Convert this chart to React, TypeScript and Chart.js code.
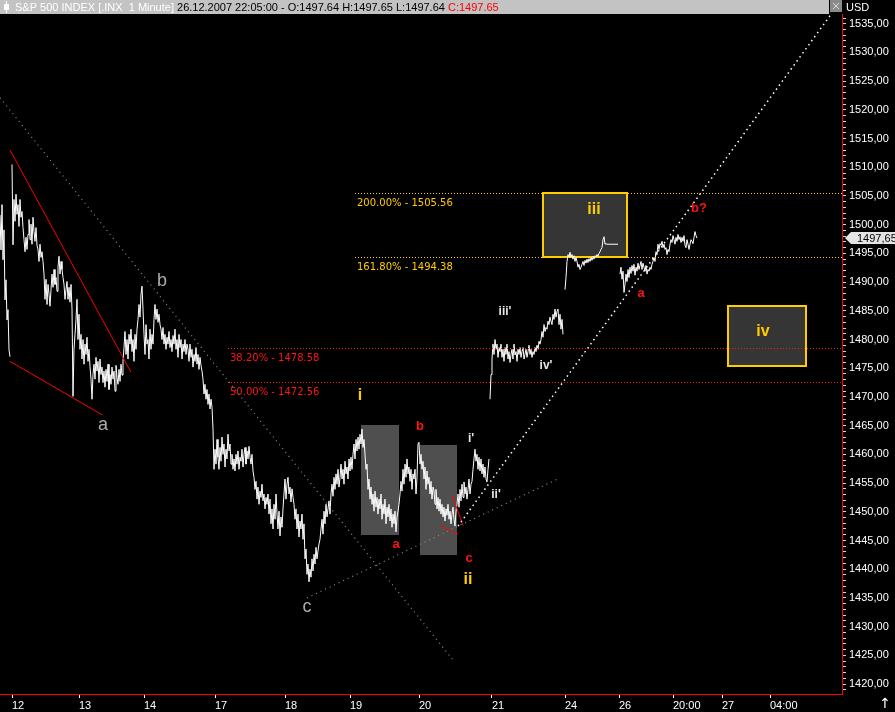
import React, { useEffect, useRef } from 'react';
import { Chart, registerables } from 'chart.js';

Chart.register(...registerables);

// ---- time axis (bar index) ----
const tickPos = [12, 79, 144, 215, 285, 350, 419, 492, 565, 619, 673, 722, 770];
const tickLabels = ['12', '13', '14', '17', '18', '19', '20', '21', '24', '26', '20:00', '27', '04:00'];

// ---- 1-minute closes, grouped by uninterrupted session runs ----
const priorTailStart = 0;
const priorTail = [1501.7, 1495.6, 1503.5, 1493.9, 1499.1, 1486.9, 1490.4, 1483.4, 1485.2, 1478.2, 1477.0];

const runAStart = 12;
const runA = [
  1510.5, 1496.5, 1504.4, 1500.6, 1505.3, 1501.8, 1503.5, 1499.7,
  1504.4, 1501.3, 1502.3, 1499.5, 1497.4, 1495.3, 1497.8, 1495.7, 1498.3, 1500.9,
  1497.4, 1500.1, 1496.6, 1501.3, 1498.8, 1497.1, 1499.5, 1496.4, 1495.7, 1493.6,
  1496.6, 1494.3, 1495.3, 1493.6, 1491.4, 1487.0, 1490.5, 1486.1, 1489.6, 1487.9,
  1485.8, 1488.7, 1491.4, 1489.1, 1492.2, 1489.6, 1490.8, 1488.4, 1492.6, 1494.5,
  1491.4, 1493.6, 1492.2, 1490.8, 1489.6, 1487.0, 1488.7, 1490.1, 1487.0, 1489.1,
  1486.5, 1489.6, 1485.3, 1470.1, 1478.3, 1480.9, 1483.5, 1487.0, 1480.0, 1484.4,
  1478.3, 1480.9, 1476.6, 1480.0, 1475.7, 1479.2, 1477.4, 1480.4, 1476.2, 1478.3,
  1475.3, 1473.1, 1469.6, 1473.9, 1475.7, 1473.1, 1476.9, 1474.5, 1476.2, 1472.5,
  1476.6, 1473.9, 1475.2, 1472.5, 1474.5, 1471.7, 1474.8, 1472.7, 1475.7, 1471.3,
  1473.9, 1472.2, 1475.2, 1473.1, 1474.5, 1471.0, 1475.5, 1473.4, 1472.2, 1474.8,
  1472.7, 1475.7, 1473.8, 1476.2, 1478.6, 1481.4, 1477.4, 1480.0, 1476.6, 1480.9,
  1479.2, 1481.8, 1477.9, 1480.0, 1476.2, 1480.9, 1478.3, 1481.8, 1483.5, 1486.1,
  1483.9, 1487.9, 1489.3, 1485.3, 1480.9, 1477.4, 1482.6, 1479.2, 1480.0, 1476.6,
  1481.8, 1478.3, 1480.9, 1479.2, 1483.5, 1486.1, 1483.5, 1485.3, 1483.0, 1484.4,
  1482.6, 1481.8, 1480.0, 1482.1, 1479.2, 1480.9, 1478.3, 1480.4, 1479.2, 1481.4,
  1478.6, 1480.0, 1477.9, 1480.7, 1479.2, 1481.8, 1478.3, 1480.0, 1476.9, 1480.9,
  1478.6, 1480.0, 1476.6, 1479.2, 1477.9, 1480.0, 1477.4, 1479.2, 1478.3, 1476.2,
  1479.2, 1476.9, 1478.3, 1475.2, 1477.4, 1476.2, 1478.6, 1475.7, 1477.4, 1474.8,
  1476.9, 1475.5, 1474.5, 1473.1, 1470.5, 1472.2, 1469.6, 1471.3, 1468.7, 1470.5,
  1467.9, 1469.6, 1468.2, 1464.4, 1457.4, 1460.9, 1458.3, 1462.6, 1459.5, 1457.4,
  1461.2, 1458.8, 1463.0, 1460.0, 1461.8, 1457.8, 1460.9, 1459.2, 1463.5, 1460.6,
  1461.8, 1458.3, 1460.0, 1457.4, 1459.2, 1457.1, 1460.0, 1458.3, 1460.6, 1457.4,
  1459.5, 1458.8, 1460.9, 1457.8, 1460.0, 1461.2, 1458.3, 1460.6, 1459.2, 1461.4,
  1459.5, 1458.3, 1460.0, 1457.1, 1456.0, 1453.9, 1455.3, 1452.2, 1454.3, 1451.3,
  1453.6, 1452.5, 1454.8, 1451.9, 1453.1, 1450.5, 1452.5, 1451.3, 1453.1, 1449.6,
  1452.2, 1447.9, 1450.5, 1447.0, 1451.3, 1448.7, 1453.1, 1449.6, 1447.0, 1450.1,
  1445.8, 1449.1, 1447.3, 1450.5, 1453.1, 1455.7, 1452.2, 1454.8, 1456.0, 1453.1,
  1454.3, 1451.7, 1454.0, 1452.5, 1451.3, 1448.7, 1450.5, 1447.0, 1449.6, 1445.6,
  1448.4, 1447.0, 1449.6, 1445.2, 1447.9, 1441.8, 1443.5, 1439.1, 1440.9, 1437.8,
  1440.0, 1438.6, 1441.8, 1439.7, 1442.6, 1440.9, 1443.8, 1441.8, 1443.2, 1444.4,
  1445.2, 1447.0, 1448.7, 1446.1, 1450.1, 1447.9, 1451.3, 1449.1, 1450.5, 1451.9,
  1449.6, 1453.1, 1454.8, 1452.7, 1456.0, 1453.9, 1456.6, 1454.8, 1457.4, 1454.3,
  1456.0, 1458.3, 1455.7, 1457.4, 1454.8, 1458.8, 1456.6, 1457.8, 1455.7, 1459.2,
  1457.1, 1459.5, 1457.4, 1460.0, 1461.8, 1459.2, 1462.6, 1460.6, 1463.0, 1460.9,
  1463.5, 1461.8, 1464.4, 1461.2, 1462.6, 1460.0, 1457.4, 1458.3, 1453.9, 1455.7,
  1452.2, 1454.3, 1451.3, 1453.1, 1450.1, 1453.6, 1450.8, 1452.5, 1449.6, 1452.2,
  1450.5, 1453.1, 1448.7, 1451.3, 1449.6, 1452.2, 1447.9, 1450.8, 1449.1, 1451.3,
  1448.4, 1450.5, 1447.3, 1449.6, 1447.9, 1450.1, 1446.5, 1449.1, 1450.1, 1451.3,
  1453.1, 1455.3, 1453.6, 1457.4, 1454.8, 1458.3, 1456.0, 1459.2, 1456.6, 1457.8,
  1455.3, 1457.4, 1453.9, 1456.6, 1455.7, 1457.4, 1453.1, 1456.0, 1461.8, 1462.1,
  1458.3, 1460.0, 1457.4, 1458.8, 1455.7, 1457.8, 1453.9, 1457.1, 1454.8, 1456.0,
  1453.1, 1455.3, 1452.2, 1454.3, 1453.6, 1451.3, 1453.9, 1450.5, 1452.5, 1450.1,
  1452.2, 1449.6, 1451.3, 1449.1, 1450.8, 1448.4, 1450.5, 1449.4, 1451.3, 1448.7,
  1450.1, 1447.9, 1449.6, 1450.8, 1448.7, 1447.5, 1450.1, 1451.3, 1453.1, 1450.8,
  1453.9, 1451.9, 1454.8, 1452.5, 1455.2, 1453.1, 1454.3, 1452.2, 1453.9, 1455.7,
  1453.1, 1454.8, 1455.3, 1457.4, 1459.2, 1460.9, 1458.8, 1460.0, 1457.4, 1459.5,
  1457.1, 1459.2, 1456.6, 1458.3, 1456.0, 1457.8, 1455.7, 1455.2, 1457.4, 1459.2,
];

const runBStart = 490;
const runB = [
  1469.6, 1473.9, 1476.6, 1479.2, 1477.4, 1480.0, 1478.3, 1479.2, 1476.9, 1478.6,
  1477.9, 1479.2, 1476.9, 1478.3, 1476.2, 1478.6, 1477.4, 1479.2, 1476.6, 1477.9,
  1476.0, 1477.4, 1478.3, 1476.6, 1479.2, 1477.3, 1477.9, 1476.2, 1478.3, 1477.4,
  1478.6, 1476.9, 1477.9, 1478.6, 1476.6, 1477.4, 1478.3, 1476.9, 1477.9, 1479.0,
  1477.4, 1478.3, 1476.9, 1477.9, 1477.4, 1478.6, 1477.9, 1479.0, 1478.3, 1479.7,
  1479.2, 1480.0, 1481.4, 1480.4, 1482.6, 1481.4, 1482.1, 1481.8, 1483.2, 1482.6,
  1483.9, 1483.2, 1482.6, 1484.4, 1483.5, 1485.3, 1483.9, 1484.9, 1485.3, 1482.6,
  1484.4, 1481.8, 1483.5, 1480.9,
];

const runCStart = 565;
const runC = [
  1488.7, 1490.8, 1493.6, 1494.8, 1494.3,
  1495.2, 1494.3, 1494.8, 1494.0, 1494.6, 1493.6, 1494.3, 1493.6, 1492.6, 1493.1,
  1492.2, 1492.6, 1493.1, 1493.6, 1492.9, 1493.8, 1493.3, 1494.0, 1493.4, 1494.1,
  1493.6, 1494.3, 1493.8, 1494.5, 1494.0, 1494.6, 1494.3, 1494.8, 1494.5, 1495.0,
  1495.3, 1495.7, 1496.0, 1497.4, 1497.9, 1496.6, 1496.7, 1496.6, 1496.6, 1496.6,
  1496.6, 1496.6, 1496.6, 1496.6, 1496.6, 1496.6, 1496.6, 1496.6, 1496.6,
];

const runDStart = 620;
const runD = [
  1491.4, 1492.6, 1490.5, 1491.9, 1488.2, 1489.6, 1491.4, 1490.1, 1492.2, 1490.8,
  1492.6, 1491.5, 1492.9, 1491.9, 1493.1, 1491.2, 1492.6, 1491.9, 1493.3, 1492.2,
  1492.9, 1493.6, 1492.2, 1493.3, 1492.6, 1491.9, 1492.9, 1491.4, 1492.2, 1491.9,
  1492.6, 1492.2, 1493.1, 1493.6, 1494.3, 1493.6, 1495.3, 1494.8, 1496.6, 1495.7,
  1496.7, 1496.4, 1497.1, 1496.0, 1496.6, 1495.7, 1496.0, 1494.8, 1495.7, 1495.3,
  1496.6, 1497.4, 1496.9, 1498.1, 1497.4, 1496.6, 1497.8, 1497.1, 1498.3, 1497.4,
  1497.9, 1496.9, 1497.8, 1497.1, 1498.1, 1496.4, 1496.0, 1497.4, 1496.6, 1495.7,
  1496.6, 1497.4, 1497.1, 1496.7, 1497.8, 1498.8, 1498.1, 1497.65,
];

// last bar quote
const lastOpen = 1497.64;
const lastHigh = 1497.65;
const lastLow = 1497.64;
const lastClose = 1497.65;

// Fibonacci projection / retracement levels
const fibPercents = ['200.00%', '161.80%', '38.20%', '50.00%'];
const fibValues = [1505.56, 1494.38, 1478.58, 1472.56];
const fibStarts = [355, 355, 228, 228];
const fibKinds = ['ext', 'ext', 'ret', 'ret'];

// trend lines: [bar1, price1, bar2, price2]
const channelLines = [
  [10, 1513.0, 131, 1474.3],
  [10, 1476.2, 102, 1466.9],
  [452, 1452.9, 463, 1447.6],
  [441, 1447.5, 458, 1446.1],
];
const grayDottedLines = [
  [0, 1522.1, 453, 1424.2],
  [307, 1435.0, 560, 1455.9],
];
const whiteDottedLines = [[458, 1447.5, 830, 1536.4]];

// zones: [bar1, upper, bar2, lower]
const grayZones = [
  [361, 1465.1, 399, 1446.0],
  [420, 1461.6, 457, 1442.5],
];
const targetZones = [
  [543, 1505.56, 627, 1494.38],
  [728, 1485.9, 806, 1475.4],
];

// wave labels: [text, bar, price]
const primaryLabels: [string, number, number][] = [['a', 103, 1465.1], ['b', 162, 1490.2], ['c', 307, 1433.4]];
const minorLabels: [string, number, number][] = [['i', 360, 1470.2], ['ii', 468, 1438.1], ['iii', 594, 1502.6], ['iv', 763, 1481.3]];
const subLabels: [string, number, number][] = [['a', 396, 1444.4], ['b', 420, 1464.8], ['c', 469, 1441.8], ['a', 641, 1488.1], ['b?', 699, 1502.8]];
const minuteLabels: [string, number, number][] = [["i'", 471, 1462.7], ["ii'", 496, 1452.9], ["iii'", 505, 1484.8], ["iv'", 546, 1475.4]];

const YELLOW = '#ffcc00';
const RED = '#ff1414';

function buildSeries() {
  const runs: [number, number[]][] = [
    [priorTailStart, priorTail],
    [runAStart, runA],
    [runBStart, runB],
    [runCStart, runC],
    [runDStart, runD],
  ];
  const pts: { x: number; y: number | null }[] = [];
  runs.forEach(([start, vals], r) => {
    if (r > 0) pts.push({ x: start - 0.5, y: null });
    vals.forEach((v, i) => pts.push({ x: start + i, y: v }));
  });
  return pts;
}

const markupPlugin = {
  id: 'waveMarkup',
  beforeDatasetsDraw(chart: any) {
    const { ctx, chartArea: a, scales } = chart;
    const x = scales.x, y = scales.y;
    ctx.save();
    ctx.beginPath();
    ctx.rect(a.left, a.top, a.right - a.left, a.bottom - a.top);
    ctx.clip();
    grayZones.forEach(([b1, hi, b2, lo]) => {
      const x1 = Math.round(x.getPixelForValue(b1));
      const x2 = Math.round(x.getPixelForValue(b2));
      const y1 = Math.round(y.getPixelForValue(hi));
      const y2 = Math.round(y.getPixelForValue(lo));
      ctx.fillStyle = '#4f4f4f';
      ctx.fillRect(x1, y1, x2 - x1, y2 - y1);
    });
    targetZones.forEach(([b1, hi, b2, lo]) => {
      const x1 = Math.round(x.getPixelForValue(b1));
      const x2 = Math.round(x.getPixelForValue(b2));
      const y1 = Math.round(y.getPixelForValue(hi));
      const y2 = Math.round(y.getPixelForValue(lo));
      ctx.fillStyle = '#353535';
      ctx.fillRect(x1, y1, x2 - x1, y2 - y1);
      ctx.strokeStyle = YELLOW;
      ctx.lineWidth = 2;
      ctx.strokeRect(x1, y1, x2 - x1, y2 - y1);
    });
    ctx.restore();
  },
  afterDatasetsDraw(chart: any) {
    const { ctx, chartArea: a, scales } = chart;
    const x = scales.x, y = scales.y;
    ctx.save();
    ctx.beginPath();
    ctx.rect(a.left, a.top, a.right - a.left, a.bottom - a.top);
    ctx.clip();

    // fib levels
    fibValues.forEach((v, i) => {
      const col = fibKinds[i] === 'ext' ? YELLOW : RED;
      const py = Math.round(y.getPixelForValue(v)) + 0.5;
      ctx.strokeStyle = col;
      ctx.lineWidth = 1;
      ctx.setLineDash([1, 2]);
      ctx.beginPath();
      ctx.moveTo(x.getPixelForValue(fibStarts[i]), py);
      ctx.lineTo(a.right, py);
      ctx.stroke();
      ctx.setLineDash([]);
      ctx.fillStyle = col;
      ctx.font = '10px "DejaVu Sans"';
      ctx.textAlign = 'left';
      ctx.textBaseline = 'alphabetic';
      ctx.fillText(`${fibPercents[i]} - ${v.toFixed(2)}`, x.getPixelForValue(fibStarts[i]) + 2, py + 12.5);
    });

    const seg = (l: number[], color: string, dash: number[], w: number) => {
      ctx.strokeStyle = color;
      ctx.lineWidth = w;
      ctx.setLineDash(dash);
      ctx.beginPath();
      ctx.moveTo(x.getPixelForValue(l[0]), y.getPixelForValue(l[1]));
      ctx.lineTo(x.getPixelForValue(l[2]), y.getPixelForValue(l[3]));
      ctx.stroke();
      ctx.setLineDash([]);
    };
    channelLines.forEach((l) => seg(l, '#ff0000', [], 1));
    grayDottedLines.forEach((l) => seg(l, '#8c8c8c', [1, 4], 1.2));
    whiteDottedLines.forEach((l) => seg(l, '#ffffff', [1.5, 3.5], 1.5));

    const put = (list: [string, number, number][], font: string, color: string) => {
      ctx.font = font;
      ctx.fillStyle = color;
      ctx.textAlign = 'center';
      ctx.textBaseline = 'middle';
      list.forEach(([t, b, p]) => ctx.fillText(t, x.getPixelForValue(b), y.getPixelForValue(p)));
    };
    put(primaryLabels, '18px "Liberation Sans"', '#acacac');
    put(minorLabels, 'bold 16px "Liberation Sans"', YELLOW);
    put(subLabels, 'bold 13px "Liberation Sans"', RED);
    put(minuteLabels, 'bold 12px "Liberation Sans"', '#e8e8e8');
    ctx.restore();
  },
  afterDraw(chart: any) {
    const { ctx, chartArea: a, scales } = chart;
    const y = scales.y;
    ctx.save();
    // title strip
    ctx.fillStyle = '#c3c3c3';
    ctx.fillRect(0, 0, a.right - 13, 14);
    ctx.fillStyle = '#ffffff';
    ctx.fillRect(4, 4, 5, 6);
    ctx.fillRect(6, 1, 1, 12);
    ctx.font = '11px "Liberation Sans"';
    ctx.textAlign = 'left';
    ctx.textBaseline = 'alphabetic';
    let tx = 15;
    const parts: [string, string][] = [
      ['S&P 500 INDEX [.INX  1 Minute] ', '#ffffff'],
      [`26.12.2007 22:05:00 - O:${lastOpen.toFixed(2)} H:${lastHigh.toFixed(2)} L:${lastLow.toFixed(2)} `, '#000000'],
      [`C:${lastClose.toFixed(2)}`, '#ff0000'],
    ];
    parts.forEach(([t, c]) => {
      ctx.fillStyle = c;
      ctx.fillText(t, tx, 11);
      tx += ctx.measureText(t).width;
    });
    // corner button
    ctx.fillStyle = '#8a8a8a';
    ctx.fillRect(a.right - 12, 0, 12, 12);
    ctx.strokeStyle = '#dcdcdc';
    ctx.lineWidth = 1;
    ctx.beginPath();
    ctx.moveTo(a.right - 9, 3);
    ctx.lineTo(a.right - 3, 9);
    ctx.moveTo(a.right - 3, 3);
    ctx.lineTo(a.right - 9, 9);
    ctx.stroke();
    // currency
    ctx.fillStyle = '#ffffff';
    ctx.fillText('USD', a.right + 4, 11);
    // last price tag
    const py = Math.round(y.getPixelForValue(lastClose));
    ctx.fillStyle = '#e4e4e4';
    ctx.beginPath();
    ctx.moveTo(a.right + 3, py);
    ctx.lineTo(a.right + 9, py - 6);
    ctx.lineTo(895, py - 6);
    ctx.lineTo(895, py + 6);
    ctx.lineTo(a.right + 9, py + 6);
    ctx.closePath();
    ctx.fill();
    ctx.fillStyle = '#000000';
    ctx.font = '11px "Liberation Sans"';
    ctx.textBaseline = 'middle';
    ctx.fillText(lastClose.toFixed(2).replace('.', ','), a.right + 15, py + 0.5);
    // scroll arrow
    ctx.fillStyle = '#ffffff';
    ctx.font = '14px "DejaVu Sans"';
    ctx.textAlign = 'center';
    ctx.fillText('\u2191', 885, 704);
    ctx.restore();
  },
};

export default function App() {
  const ref = useRef<HTMLCanvasElement>(null);
  useEffect(() => {
    if (!ref.current) return;
    const chart = new Chart(ref.current, {
      type: 'line',
      data: {
        datasets: [
          {
            data: buildSeries() as any,
            borderColor: '#ffffff',
            borderWidth: 1,
            pointRadius: 0,
            tension: 0,
            spanGaps: false,
          },
        ],
      },
      options: {
        animation: false,
        responsive: false,
        devicePixelRatio: 1,
        events: [],
        layout: { padding: { top: 14, left: 0, right: 0, bottom: 0 } },
        plugins: { legend: { display: false }, tooltip: { enabled: false } },
        scales: {
          x: {
            type: 'linear',
            min: 0,
            max: 842,
            afterBuildTicks: (s: any) => {
              s.ticks = tickPos.map((v) => ({ value: v }));
            },
            afterFit: (s: any) => {
              s.height = 18;
            },
            ticks: {
              autoSkip: false,
              maxRotation: 0,
              align: 'start',
              padding: 1,
              color: '#ffffff',
              font: { family: 'Liberation Sans', size: 11 },
              callback: (_v: any, i: number) => tickLabels[i],
            },
            grid: { drawOnChartArea: false, tickLength: 4, color: '#ffffff' },
            border: { color: '#ff0000', width: 1 },
          },
          y: {
            type: 'linear',
            position: 'right',
            min: 1418.26,
            max: 1536.7,
            afterBuildTicks: (s: any) => {
              const t = [];
              for (let v = 1419; v <= 1536; v++) t.push({ value: v });
              s.ticks = t;
            },
            afterFit: (s: any) => {
              s.width = 53;
            },
            ticks: {
              autoSkip: false,
              padding: 3,
              color: '#ffffff',
              font: { family: 'Liberation Sans', size: 11 },
              callback: (v: any) => (v % 5 === 0 ? Number(v).toFixed(2).replace('.', ',') : ''),
            },
            grid: { drawOnChartArea: false, tickLength: 4, color: '#d8d8d8' },
            border: { color: '#ff0000', width: 1 },
          },
        },
      },
      plugins: [markupPlugin],
    });
    return () => chart.destroy();
  }, []);
  return (
    <div style={{ position: 'fixed', left: 0, top: 0, width: 895, height: 712, background: '#000' }}>
      <canvas ref={ref} width={895} height={712} style={{ display: 'block' }} />
    </div>
  );
}
